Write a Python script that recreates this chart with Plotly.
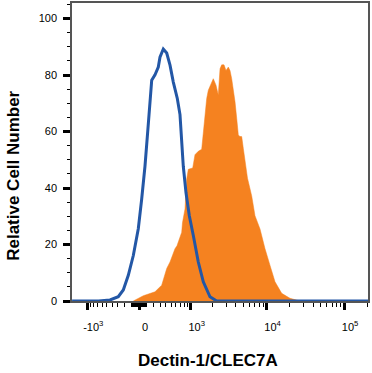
import numpy as np
import plotly.graph_objects as go

# ---- data (x in transformed display units: asinh(intensity / 450)) ----
blue_x = [-1.99, -1.2, -0.862, -0.616, -0.467, -0.318, -0.169, -0.021, 0.080, 0.178,
          0.259, 0.327, 0.378, 0.476, 0.574, 0.624, 0.723, 0.824, 0.922, 1.020,
          1.139, 1.219, 1.270, 1.317, 1.398, 1.496, 1.615, 1.763, 1.912, 2.111,
          2.310, 6.81]
blue_y = [0, 0, 0.35, 1.5, 3.9, 9.1, 16.1, 25.6, 36.1, 47.7,
          60.0, 71.9, 78.2, 80.1, 82.8, 86.3, 89.2, 87.8, 83.5, 77.5,
          71.7, 66.0, 57.7, 47.7, 38.3, 30.2, 23.2, 13.8, 6.8, 1.5,
          0, 0]

orange_x = [-0.169, 0.128, 0.476, 0.675, 0.824, 0.922, 1.070, 1.130, 1.270, 1.293,
            1.368, 1.418, 1.466, 1.597, 1.665, 1.763, 1.864, 1.912, 1.963, 2.013,
            2.061, 2.111, 2.162, 2.209, 2.290, 2.358, 2.409, 2.459, 2.528, 2.587,
            2.655, 2.706, 2.756, 2.804, 2.855, 2.905, 2.953, 3.003, 3.054, 3.101,
            3.152, 3.226, 3.351, 3.449, 3.598, 3.747, 3.896, 4.044, 4.243, 4.490,
            4.787]
orange_y = [0, 1.86, 3.26, 5.6, 11.5, 13.8, 18.5, 19.6, 24.3, 27.7,
            32.6, 43.2, 46.6, 47.1, 51.8, 53.0, 53.7, 60.0, 67.0, 71.7,
            74.6, 75.8, 77.5, 78.7, 76.4, 72.9, 82.2, 83.6, 83.6, 81.6,
            82.8, 81.6, 78.7, 75.2, 70.5, 64.7, 58.8, 58.2, 58.2, 54.1,
            49.5, 43.5, 37.2, 30.2, 25.5, 18.5, 12.6, 6.8, 2.7, 0.95,
            0]

major_x_values = [-1000, 0, 1000, 10000, 100000]
major_x_labels = ["-10<sup>3</sup>", "0", "10<sup>3</sup>", "10<sup>4</sup>", "10<sup>5</sup>"]
y_major = [0, 20, 40, 60, 80, 100]

W = 450.0
def tf(v):
    return np.arcsinh(np.asarray(v, dtype=float) / W)

minor_vals = []
minor_vals += [s * k for s in (-1, 1) for k in range(10, 100, 10)]
minor_vals += [s * k for s in (-1, 1) for k in range(100, 1000, 100)]
minor_vals += [k * 1000 for k in range(2, 10)]
minor_vals += [k * 10000 for k in range(2, 10)]
minor_vals += [200000]

BLUE = "#2357a6"
ORANGE = "#f58220"

fig = go.Figure()
fig.add_trace(go.Scatter(x=orange_x, y=orange_y, mode="lines", fill="tozeroy",
                         line=dict(color=ORANGE, width=0.5), fillcolor=ORANGE,
                         hoverinfo="skip"))
fig.add_trace(go.Scatter(x=blue_x, y=blue_y, mode="lines",
                         line=dict(color=BLUE, width=3), hoverinfo="skip"))

fig.update_layout(
    width=372, height=373,
    margin=dict(l=72, r=4, t=1, b=72),
    plot_bgcolor="white", paper_bgcolor="white",
    showlegend=False,
    font=dict(family="Liberation Sans, Arial, sans-serif", color="black", size=11),
)
fig.update_xaxes(
    range=[-1.992, 6.809], showgrid=False, zeroline=False,
    showline=True, mirror=True, linecolor="#555555", linewidth=1.5,
    tickmode="array", tickvals=tf(major_x_values).tolist(), ticktext=major_x_labels,
    ticks="outside", ticklen=7, tickwidth=3, tickcolor="black",
    ticklabelshift=6, ticklabelstandoff=8,
    tickfont=dict(size=11),
    minor=dict(tickmode="array", tickvals=tf(minor_vals).tolist(),
               ticks="outside", ticklen=4, tickwidth=1.2, tickcolor="black", showgrid=False),
)
fig.update_yaxes(
    range=[0, 105.5], showgrid=False, zeroline=False,
    showline=True, mirror=True, linecolor="#555555", linewidth=1.5,
    tickmode="array", tickvals=y_major,
    ticks="outside", ticklen=7, tickwidth=3, tickcolor="black",
    ticklabelstandoff=4,
    tickfont=dict(size=11),
    minor=dict(dtick=5, ticks="outside", ticklen=3, tickwidth=1, tickcolor="black", showgrid=False),
)

fig.add_annotation(text="<b>Dectin-1/CLEC7A</b>", xref="paper", yref="paper",
                   x=0.459, y=-0.2, xanchor="center", yanchor="middle",
                   showarrow=False, font=dict(size=17, color="black"))
fig.add_annotation(text="<b>Relative Cell Number</b>", xref="paper", yref="paper",
                   x=-0.196, y=0.42, xanchor="center", yanchor="middle", textangle=-90,
                   showarrow=False, font=dict(size=17, color="black"))

fig.write_html("out.html", config={"displayModeBar": False},
               post_script="document.body.style.margin='0px';document.body.style.overflow='hidden';")
